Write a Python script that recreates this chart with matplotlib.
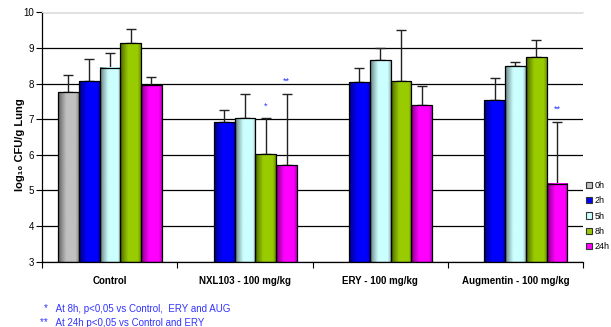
import numpy as np
import matplotlib
matplotlib.use("Agg")
import matplotlib.pyplot as plt
from matplotlib.colors import to_rgb
from matplotlib.patches import Patch

plt.rcParams['font.family'] = ['Liberation Sans', 'DejaVu Sans']

groups = ["Control", "NXL103 - 100 mg/kg", "ERY - 100 mg/kg", "Augmentin - 100 mg/kg"]
times = ["0h", "2h", "5h", "8h", "24h"]
colors = ["#c0c0c0", "#0000ff", "#ccffff", "#99cc00", "#ff00ff"]

# mean log10 CFU/g per time point (rows) and group (columns); nan = not sampled
mean_0h = [7.75, np.nan, np.nan, np.nan]
mean_2h = [8.08, 6.92, 8.03, 7.54]
mean_5h = [8.45, 7.03, 8.66, 8.48]
mean_8h = [9.13, 6.01, 8.06, 8.75]
mean_24h = [7.96, 5.71, 7.39, 5.19]

sd_0h = [0.49, np.nan, np.nan, np.nan]
sd_2h = [0.62, 0.33, 0.40, 0.63]
sd_5h = [0.42, 0.68, 0.33, 0.12]
sd_8h = [0.39, 1.01, 1.45, 0.46]
sd_24h = [0.23, 2.00, 0.54, 1.74]

means = [mean_0h, mean_2h, mean_5h, mean_8h, mean_24h]
sds = [sd_0h, sd_2h, sd_5h, sd_8h, sd_24h]

# significance marks: (time index, group index, text)
signif = [(3, 1, "*"), (4, 1, "**"), (4, 3, "**")]

footnotes = ["*   At 8h, p<0,05 vs Control,  ERY and AUG",
             "**   At 24h p<0,05 vs Control and ERY"]


def shade(col, n=40):
    # horizontal shading: dark left edge, bright middle, slightly dark right edge
    t = np.linspace(0, 1, n)
    f = 0.45 + 0.55 * np.clip(t / 0.4, 0, 1) ** 0.8
    f = np.where(t > 0.85, f * (1 - 0.25 * (t - 0.85) / 0.15), f)
    rgb = np.array(to_rgb(col))
    return (rgb[None, :] * f[:, None])[None, :, :]


fig = plt.figure(figsize=(6.11, 3.27), dpi=100)
ax = fig.add_axes([42.3 / 611, 1 - 261.7 / 327, (583 - 42.3) / 611, (261.7 - 12.3) / 327])

x = np.arange(len(groups))
w = 0.1535
ymin = 3

for k in range(len(times)):
    xs = x + (k - 2) * w
    vals = np.array(means[k])
    errs = np.array(sds[k])
    ok = ~np.isnan(vals)
    bars = ax.bar(xs[ok], vals[ok] - ymin, w, bottom=ymin, facecolor="none",
                  edgecolor="black", linewidth=0.9, zorder=4)
    for b in bars:
        x0, y0 = b.get_x(), b.get_y()
        ax.imshow(shade(colors[k]), extent=[x0, x0 + b.get_width(), y0, y0 + b.get_height()],
                  aspect="auto", interpolation="bilinear", zorder=3)
    ax.errorbar(xs[ok], vals[ok], yerr=[np.zeros(ok.sum()), errs[ok]], fmt="none",
                ecolor="#222222", elinewidth=1.0, capsize=3.5, capthick=1.0, zorder=2)

for k, g, s in signif:
    top = means[k][g] + sds[k][g]
    ax.text(x[g] + (k - 2) * w, top + 0.22, s, color="#2233ff", fontsize=6.5,
            ha="center", va="bottom")

ax.set_xlim(-0.5, len(groups) - 0.5)
ax.set_ylim(3, 10)
ax.set_yticks(range(3, 11))
ax.set_xticks(np.arange(-0.5, len(groups)), labels=[""] * (len(groups) + 1))
ax.set_xticks(x, labels=groups, minor=True)
ax.tick_params(axis="x", which="major", length=4, direction="out", width=0.8)
ax.tick_params(axis="x", which="minor", length=0, pad=10, labelsize=7)
for lab in ax.get_xticklabels(minor=True):
    lab.set_fontweight("bold")
ax.tick_params(axis="y", length=4, direction="out", width=0.8, labelsize=7, pad=2)

ax.yaxis.grid(True, color="black", linewidth=0.9)
ax.set_axisbelow(True)
ax.spines["right"].set_visible(False)
ax.spines["top"].set_color("#e4e4e4")
ax.spines["left"].set_linewidth(0.9)
ax.spines["bottom"].set_linewidth(0.9)
ax.spines["bottom"].set_zorder(6)

fig.text(20 / 611, 1 - 145 / 327, "log\u2081\u2080 CFU/g Lung", rotation=90,
         fontsize=8, fontweight="bold", ha="center", va="center")

# legend squeezed against the right edge of the figure
handles = [Patch(facecolor=c, edgecolor="#333333", linewidth=0.8) for c in colors]
fig.legend(handles, times, loc="upper left", bbox_to_anchor=(586 / 611, 1 - 181 / 327),
           frameon=False, fontsize=6.5, handlelength=0.7, handleheight=0.7,
           handletextpad=0.25, labelspacing=0.7, borderaxespad=0, borderpad=0)

fig.text(44 / 611, 1 - 309 / 327, footnotes[0], color="#3333ff", fontsize=7, va="center")
fig.text(40 / 611, 1 - 323 / 327, footnotes[1], color="#3333ff", fontsize=7, va="center")

fig.savefig("out.png", dpi=100)
